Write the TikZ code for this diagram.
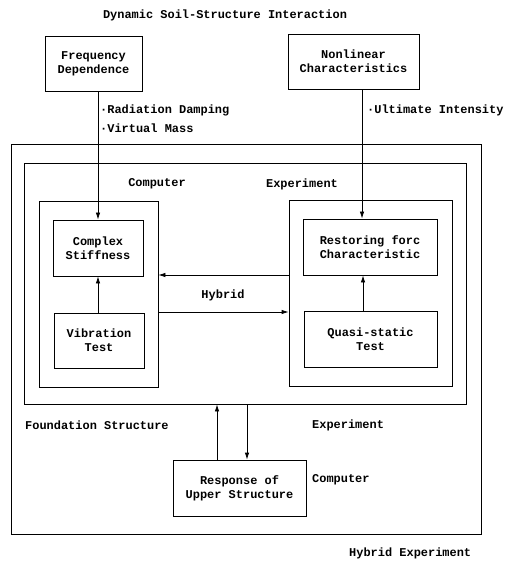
\documentclass[tikz,border=0pt]{standalone}
\usepackage{fontspec}
\setmonofont{Liberation Mono}
\usetikzlibrary{arrows.meta}
\begin{document}
\begin{tikzpicture}[x=1bp,y=-1bp,
  every node/.style={font=\ttfamily\bfseries\fontsize{12}{14}\selectfont},
  blk/.style={draw,line width=0.8bp,inner sep=0,align=center},
  cont/.style={draw,line width=0.8bp,inner sep=0},
  lbl/.style={inner sep=0},
  arr/.style={line width=0.8bp,-{Latex[length=7bp,width=4.5bp]}}]
\useasboundingbox (0,0) rectangle (508,562);
% containers
\node[cont,minimum width=470bp,minimum height=390bp] (outer) at (246,339) {};
\node[cont,minimum width=442bp,minimum height=241bp] (mid) at (245,283.5) {};
\node[cont,minimum width=119bp,minimum height=186bp] (compbox) at (98.5,294) {};
\node[cont,minimum width=163bp,minimum height=186bp] (expbox) at (370.5,293) {};
% blocks
\node[blk,minimum width=97bp,minimum height=55bp] (freq) at (93.5,63.5) {Frequency\\Dependence};
\node[blk,minimum width=131bp,minimum height=55bp] (nonlin) at (353.5,61.5) {Nonlinear\\Characteristics};
\node[blk,minimum width=90bp,minimum height=56bp] (complex) at (98,248) {Complex\\Stiffness};
\node[blk,minimum width=90bp,minimum height=55bp] (vib) at (99,340.5) {Vibration\\Test};
\node[blk,minimum width=134bp,minimum height=56bp] (restore) at (370,247) {Restoring forc\\Characteristic};
\node[blk,minimum width=133bp,minimum height=56bp] (quasi) at (370.5,339) {Quasi-static\\Test};
\node[blk,minimum width=133bp,minimum height=56bp] (response) at (239.5,488) {Response of\\Upper Structure};
% labels
\node[lbl] (title) at (225,15) {Dynamic Soil-Structure Interaction};
\node[lbl,anchor=west] (rd) at (100,110) {·Radiation Damping};
\node[lbl,anchor=west] (vm) at (100,128) {·Virtual Mass};
\node[lbl,anchor=west] (ui) at (367,110) {·Ultimate Intensity};
\node[lbl] (lcomp) at (157,184) {Computer};
\node[lbl] (lexp) at (302,184) {Experiment};
\node[lbl] (lhyb) at (223,295) {Hybrid};
\node[lbl,anchor=west] (lfound) at (25,425) {Foundation Structure};
\node[lbl,anchor=west] (lexp2) at (312,425) {Experiment};
\node[lbl,anchor=west] (lcomp2) at (312,480) {Computer};
\node[lbl,anchor=west] (lhe) at (349,553) {Hybrid Experiment};
% helper coordinates
\coordinate (nx) at (362,0);
\coordinate (qx) at (363,0);
\coordinate (y1) at (0,275);
\coordinate (y2) at (0,312);
\coordinate (ux) at (217,0);
\coordinate (dx) at (247,0);
% connectors
\draw[arr] (freq.south -| complex.north) -- (complex.north);
\draw[arr] (nonlin.south -| nx) -- (restore.north -| nx);
\draw[arr] (vib.north -| complex.south) -- (complex.south);
\draw[arr] (quasi.north -| qx) -- (restore.south -| qx);
\draw[arr] (expbox.west |- y1) -- (compbox.east |- y1);
\draw[arr] (compbox.east |- y2) -- (expbox.west |- y2);
\draw[arr] (response.north -| ux) -- (mid.south -| ux);
\draw[arr] (mid.south -| dx) -- (response.north -| dx);
\end{tikzpicture}
\end{document}
